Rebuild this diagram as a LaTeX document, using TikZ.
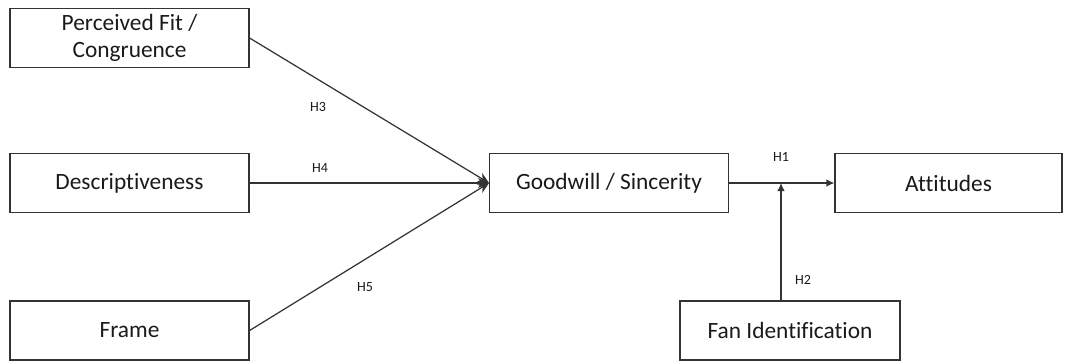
\documentclass[tikz,border=0pt]{standalone}
\usepackage{fontspec}
\setmainfont{Carlito}[Ligatures=NoCommon]
\usetikzlibrary{arrows.meta,positioning,calc}
\definecolor{fmLine}{HTML}{333333}
\definecolor{fmText}{HTML}{1A1A1A}
\tikzset{
  fmbox/.style={
    draw=fmLine, line width=0.7pt, minimum width=4.78cm, minimum height=1.18cm,
    inner sep=1pt, font=\fontsize{13.3}{15.5}\selectfont, align=center, text=fmText
  },
  hyp/.style={font=\fontsize{8}{9}\selectfont, text=fmText, inner sep=1pt},
  path/.style={-{Stealth[length=2.2mm,width=2mm]}, line width=0.7pt, fmLine},
  link/.style={-{Latex[length=1.6mm,width=1.5mm]}, line width=0.7pt, fmLine}
}
\begin{document}
\begin{tikzpicture}[x=0.02cm, y=-0.02cm]
  \useasboundingbox (0,0) rectangle (1067,363);
  % antecedents
  \node[fmbox] (fit) at (129.5,38) {Perceived Fit /\\Congruence};
  \node[fmbox] (desc) at (129.5,183) {Descriptiveness};
  \node[fmbox] (frame) at (129.5,330.5) {Frame};
  % mediator and outcome
  \node[fmbox] (good) at (609,183) {Goodwill / Sincerity};
  \node[fmbox, minimum width=4.54cm] (att) at (948.5,183) {Attitudes};
  \node[fmbox, minimum width=4.4cm] (fan) at (790,330.5) {Fan Identification};
  \coordinate (hub) at (489,183);
  \coordinate (join) at (781,183);
  \draw[path] (fit.east) -- (hub);
  \draw[path] (desc.east) -- (hub);
  \draw[path] (frame.east) -- (hub);
  \draw[link] (good.east) -- (att.west);
  \draw[link] (fan.north -| join) -- (join);
  % hypothesis labels
  \node[hyp] (h3) at (318,107) {H3};
  \node[hyp] (h4) at (320,168) {H4};
  \node[hyp] (h5) at (365,287) {H5};
  \node[hyp] (h1) at (781,157) {H1};
  \node[hyp] (h2) at (803,280) {H2};
\end{tikzpicture}
\end{document}
